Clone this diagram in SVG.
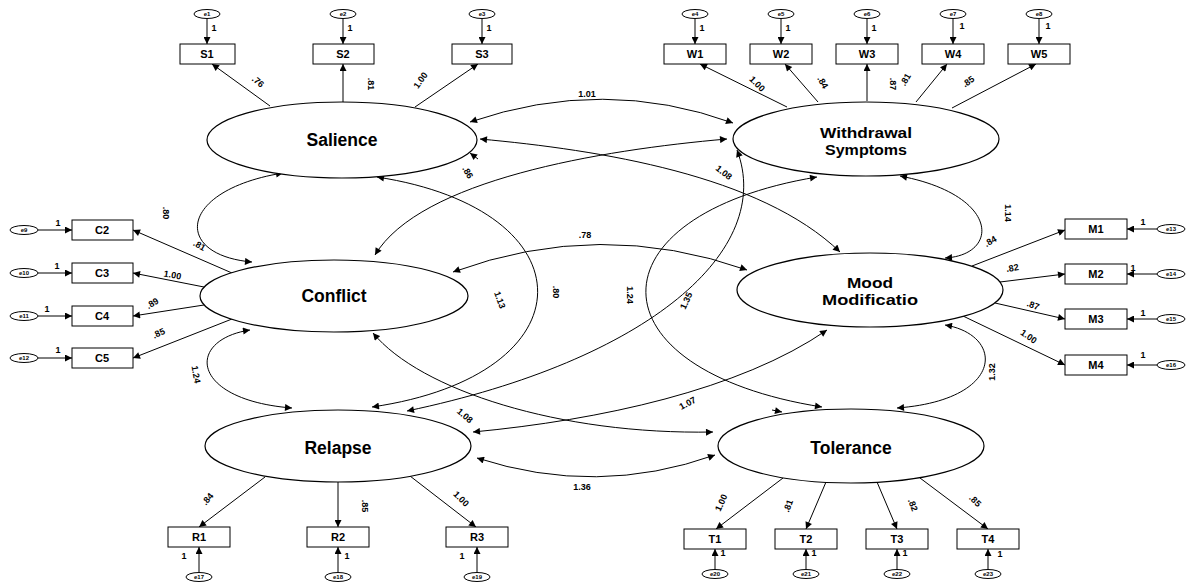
<svg xmlns="http://www.w3.org/2000/svg" width="1187" height="584" viewBox="0 0 1187 584">
<style>
.lat{fill:#fff;stroke:#000;stroke-width:1.2}
.box{fill:#fff;stroke:#000;stroke-width:1}
.err{fill:#fff;stroke:#000;stroke-width:1}
.ln{fill:none;stroke:#000;stroke-width:1;marker-end:url(#ah)}
.cv{fill:none;stroke:#000;stroke-width:1;marker-start:url(#ah);marker-end:url(#ah)}
text{font-family:"Liberation Sans",Arial,sans-serif;font-weight:bold;text-anchor:middle;fill:#000}
.lt{font-size:17.5px}
.l2{font-size:14px}
.bt{font-size:11px}
.pl{font-size:9px}
.et{font-size:6px}
</style>
<defs>
<marker id="ah" viewBox="0 0 10 10" refX="10" refY="5" markerWidth="9" markerHeight="7" markerUnits="userSpaceOnUse" orient="auto-start-reverse"><path d="M0,0 L10,5 L0,10 z" fill="#000"/></marker>
</defs>
<rect width="1187" height="584" fill="#fff"/>

<g id="connectors">
<!-- covariances -->
<path class="cv" d="M470,122 Q604,76 733,123"/>
<path class="cv" d="M283,173 C178,190 172,255 252,262"/>
<path class="cv" d="M250,330 C185,340 190,400 292,408"/>
<path class="cv" d="M900,176 C1000,195 1000,255 945,258"/>
<path class="cv" d="M945,325 C1005,335 1005,400 897,408"/>
<path class="cv" d="M477,458 Q597,497 715,455"/>
<path class="cv" d="M453,272 Q600,218 747,270"/>
<path class="cv" d="M480,139 C600,150 760,175 840,252"/>
<path class="cv" d="M727,139 C600,150 420,180 375,255"/>
<path class="cv" d="M377,177 C592,210 592,375 372,407"/>
<path class="cv" d="M817,177 C588,215 588,370 822,407"/>
<path class="cv" d="M737,150 C775,250 650,360 407,411"/>
<path class="cv" d="M373,333 C420,390 560,435 713,432"/>
<path class="cv" d="M473,432 C600,420 740,390 827,330"/>
<path class="ln" d="M478,159 L470,153"/>
<path class="ln" d="M772,410 L782,412"/>
<g class="pl">
<text x="587" y="97">1.01</text>
<text transform="translate(163,213) rotate(90)">.80</text>
<text transform="translate(193,375) rotate(80)">1.24</text>
<text transform="translate(1005,213) rotate(90)">1.14</text>
<text transform="translate(995,372) rotate(-90)">1.32</text>
<text x="582" y="490">1.36</text>
<text x="585" y="238">.78</text>
<text transform="translate(722,175) rotate(38)">1.08</text>
<text transform="translate(465,174) rotate(60)">.86</text>
<text transform="translate(497,301) rotate(70)">1.13</text>
<text transform="translate(553,292) rotate(90)">.80</text>
<text transform="translate(627,295) rotate(90)">1.24</text>
<text transform="translate(689,302) rotate(-65)">1.35</text>
<text transform="translate(463,418) rotate(40)">1.08</text>
<text transform="translate(689,406) rotate(-28)">1.07</text>
</g>
<!-- loadings -->
<path class="ln" d="M270,106 L212,64"/>
<path class="ln" d="M343,102 L343,64"/>
<path class="ln" d="M415,107 L478,64"/>
<path class="ln" d="M787,107 L700,64"/>
<path class="ln" d="M818,102 L785,64"/>
<path class="ln" d="M867,101 L867,64"/>
<path class="ln" d="M916,102 L947,64"/>
<path class="ln" d="M952,108 L1036,64"/>
<path class="ln" d="M232,273 L133,230"/>
<path class="ln" d="M204,287 L133,273"/>
<path class="ln" d="M204,305 L133,316"/>
<path class="ln" d="M232,319 L133,358"/>
<path class="ln" d="M972,266 L1065,230"/>
<path class="ln" d="M1000,282 L1065,274"/>
<path class="ln" d="M995,303 L1065,319"/>
<path class="ln" d="M963,316 L1065,365"/>
<path class="ln" d="M265,477 L199,527"/>
<path class="ln" d="M338,482 L338,527"/>
<path class="ln" d="M410,476 L476,527"/>
<path class="ln" d="M783,478 L716,529"/>
<path class="ln" d="M826,482 L806,529"/>
<path class="ln" d="M877,482 L897,529"/>
<path class="ln" d="M920,478 L988,529"/>
<g class="pl">
<text transform="translate(256,84) rotate(40)">.76</text>
<text transform="translate(368,84) rotate(90)">.81</text>
<text transform="translate(423,82) rotate(-55)">1.00</text>
<text transform="translate(755,86) rotate(45)">1.00</text>
<text transform="translate(820,84) rotate(60)">.84</text>
<text transform="translate(890,84) rotate(90)">.87</text>
<text transform="translate(908,81) rotate(-60)">.81</text>
<text transform="translate(970,84) rotate(-35)">.85</text>
<text transform="translate(198,248) rotate(30)">.81</text>
<text transform="translate(172,278) rotate(10)">1.00</text>
<text transform="translate(154,306) rotate(-30)">.89</text>
<text transform="translate(160,336) rotate(-25)">.85</text>
<text transform="translate(992,244) rotate(-30)">.84</text>
<text transform="translate(1013,271) rotate(-10)">.82</text>
<text transform="translate(1032,308) rotate(20)">.87</text>
<text transform="translate(1027,339) rotate(35)">1.00</text>
<text transform="translate(210,501) rotate(-50)">.84</text>
<text transform="translate(362,506) rotate(90)">.85</text>
<text transform="translate(459,501) rotate(45)">1.00</text>
<text transform="translate(724,504) rotate(-65)">1.00</text>
<text transform="translate(791,507) rotate(-70)">.81</text>
<text transform="translate(910,506) rotate(70)">.82</text>
<text transform="translate(973,503) rotate(45)">.85</text>
</g>
<!-- error paths -->
<path class="ln" d="M207,19 L207,44"/>
<path class="ln" d="M343,19 L343,44"/>
<path class="ln" d="M482,19 L482,44"/>
<path class="ln" d="M695,19 L695,44"/>
<path class="ln" d="M781,19 L781,44"/>
<path class="ln" d="M867,19 L867,44"/>
<path class="ln" d="M953,19 L953,44"/>
<path class="ln" d="M1039,19 L1039,44"/>
<path class="ln" d="M38,230 L72,230"/>
<path class="ln" d="M38,273 L72,273"/>
<path class="ln" d="M38,316 L72,316"/>
<path class="ln" d="M38,358 L72,358"/>
<path class="ln" d="M1157,229 L1127,229"/>
<path class="ln" d="M1157,274 L1127,274"/>
<path class="ln" d="M1157,319 L1127,319"/>
<path class="ln" d="M1157,365 L1127,365"/>
<path class="ln" d="M199,572 L199,547"/>
<path class="ln" d="M338,572 L338,547"/>
<path class="ln" d="M477,572 L477,547"/>
<path class="ln" d="M715,569 L715,549"/>
<path class="ln" d="M806,569 L806,549"/>
<path class="ln" d="M897,569 L897,549"/>
<path class="ln" d="M988,569 L988,549"/>
<g class="pl">
<text x="214" y="31">1</text>
<text x="350" y="31">1</text>
<text x="489" y="31">1</text>
<text x="702" y="31">1</text>
<text x="788" y="31">1</text>
<text x="874" y="31">1</text>
<text x="962" y="29">1</text>
<text x="1048" y="29">1</text>
<text x="58" y="226">1</text>
<text x="57" y="269">1</text>
<text x="47" y="312">1</text>
<text x="58" y="353">1</text>
<text x="1143" y="225">1</text>
<text x="1133" y="271">1</text>
<text x="1143" y="316">1</text>
<text x="1143" y="358">1</text>
<text x="184" y="559">1</text>
<text x="347" y="559">1</text>
<text x="462" y="559">1</text>
<text x="723" y="556">1</text>
<text x="814" y="556">1</text>
<text x="905" y="556">1</text>
<text x="1000" y="557">1</text>
</g>
</g>

<g id="salience"><ellipse class="lat" cx="342" cy="140" rx="135" ry="38"/><text class="lt" x="342" y="146">Salience</text></g>
<g id="withdrawal"><ellipse class="lat" cx="866" cy="139" rx="133" ry="37"/><text class="l2" x="866" y="138" textLength="92" lengthAdjust="spacingAndGlyphs">Withdrawal</text><text class="l2" x="866" y="155" textLength="82" lengthAdjust="spacingAndGlyphs">Symptoms</text></g>
<g id="conflict"><ellipse class="lat" cx="334" cy="296" rx="134" ry="36"/><text class="lt" x="334" y="302">Conflict</text></g>
<g id="mood"><ellipse class="lat" cx="870" cy="290" rx="133" ry="37"/><text class="l2" x="870" y="288" textLength="46" lengthAdjust="spacingAndGlyphs">Mood</text><text class="l2" x="870" y="305" textLength="96" lengthAdjust="spacingAndGlyphs">Modificatio</text></g>
<g id="relapse"><ellipse class="lat" cx="338" cy="446" rx="133" ry="36"/><text class="lt" x="338" y="454">Relapse</text></g>
<g id="tolerance"><ellipse class="lat" cx="851" cy="446" rx="133" ry="37"/><text class="lt" x="851" y="454">Tolerance</text></g>

<g id="S1"><rect class="box" x="180" y="44" width="55" height="20"/><text class="bt" x="207" y="58">S1</text></g>
<g id="S2"><rect class="box" x="313" y="44" width="61" height="20"/><text class="bt" x="343" y="58">S2</text></g>
<g id="S3"><rect class="box" x="452" y="44" width="60" height="20"/><text class="bt" x="482" y="58">S3</text></g>
<g id="W1"><rect class="box" x="664" y="44" width="62" height="20"/><text class="bt" x="695" y="58">W1</text></g>
<g id="W2"><rect class="box" x="750" y="44" width="62" height="20"/><text class="bt" x="781" y="58">W2</text></g>
<g id="W3"><rect class="box" x="836" y="44" width="62" height="20"/><text class="bt" x="867" y="58">W3</text></g>
<g id="W4"><rect class="box" x="922" y="44" width="62" height="20"/><text class="bt" x="953" y="58">W4</text></g>
<g id="W5"><rect class="box" x="1008" y="44" width="62" height="20"/><text class="bt" x="1039" y="58">W5</text></g>
<g id="C2"><rect class="box" x="72" y="220" width="61" height="20"/><text class="bt" x="102" y="234">C2</text></g>
<g id="C3"><rect class="box" x="72" y="263" width="61" height="20"/><text class="bt" x="102" y="277">C3</text></g>
<g id="C4"><rect class="box" x="72" y="306" width="61" height="20"/><text class="bt" x="102" y="320">C4</text></g>
<g id="C5"><rect class="box" x="72" y="348" width="61" height="20"/><text class="bt" x="102" y="362">C5</text></g>
<g id="M1"><rect class="box" x="1065" y="219" width="62" height="20"/><text class="bt" x="1096" y="233">M1</text></g>
<g id="M2"><rect class="box" x="1065" y="264" width="62" height="20"/><text class="bt" x="1096" y="278">M2</text></g>
<g id="M3"><rect class="box" x="1065" y="309" width="62" height="20"/><text class="bt" x="1096" y="323">M3</text></g>
<g id="M4"><rect class="box" x="1065" y="355" width="62" height="20"/><text class="bt" x="1096" y="369">M4</text></g>
<g id="R1"><rect class="box" x="168" y="527" width="62" height="20"/><text class="bt" x="199" y="541">R1</text></g>
<g id="R2"><rect class="box" x="307" y="527" width="62" height="20"/><text class="bt" x="338" y="541">R2</text></g>
<g id="R3"><rect class="box" x="446" y="527" width="62" height="20"/><text class="bt" x="477" y="541">R3</text></g>
<g id="T1"><rect class="box" x="684" y="529" width="62" height="20"/><text class="bt" x="715" y="543">T1</text></g>
<g id="T2"><rect class="box" x="775" y="529" width="62" height="20"/><text class="bt" x="806" y="543">T2</text></g>
<g id="T3"><rect class="box" x="866" y="529" width="62" height="20"/><text class="bt" x="897" y="543">T3</text></g>
<g id="T4"><rect class="box" x="957" y="529" width="62" height="20"/><text class="bt" x="988" y="543">T4</text></g>

<g id="errors">
<g id="e1"><ellipse class="err" cx="207" cy="14" rx="13" ry="4.5"/><text class="et" x="207" y="16">e1</text></g>
<g id="e2"><ellipse class="err" cx="343" cy="14" rx="13" ry="4.5"/><text class="et" x="343" y="16">e2</text></g>
<g id="e3"><ellipse class="err" cx="482" cy="14" rx="13" ry="4.5"/><text class="et" x="482" y="16">e3</text></g>
<g id="e4"><ellipse class="err" cx="695" cy="14" rx="13" ry="4.5"/><text class="et" x="695" y="16">e4</text></g>
<g id="e5"><ellipse class="err" cx="781" cy="14" rx="13" ry="4.5"/><text class="et" x="781" y="16">e5</text></g>
<g id="e6"><ellipse class="err" cx="867" cy="14" rx="13" ry="4.5"/><text class="et" x="867" y="16">e6</text></g>
<g id="e7"><ellipse class="err" cx="953" cy="14" rx="13" ry="4.5"/><text class="et" x="953" y="16">e7</text></g>
<g id="e8"><ellipse class="err" cx="1039" cy="14" rx="13" ry="4.5"/><text class="et" x="1039" y="16">e8</text></g>
<g id="e9"><ellipse class="err" cx="24" cy="230" rx="14" ry="4.5"/><text class="et" x="24" y="232">e9</text></g>
<g id="e10"><ellipse class="err" cx="24" cy="273" rx="14" ry="4.5"/><text class="et" x="24" y="275">e10</text></g>
<g id="e11"><ellipse class="err" cx="24" cy="316" rx="14" ry="4.5"/><text class="et" x="24" y="318">e11</text></g>
<g id="e12"><ellipse class="err" cx="24" cy="358" rx="14" ry="4.5"/><text class="et" x="24" y="360">e12</text></g>
<g id="e13"><ellipse class="err" cx="1171" cy="229" rx="14" ry="4.5"/><text class="et" x="1171" y="231">e13</text></g>
<g id="e14"><ellipse class="err" cx="1171" cy="274" rx="14" ry="4.5"/><text class="et" x="1171" y="276">e14</text></g>
<g id="e15"><ellipse class="err" cx="1171" cy="319" rx="14" ry="4.5"/><text class="et" x="1171" y="321">e15</text></g>
<g id="e16"><ellipse class="err" cx="1171" cy="365" rx="14" ry="4.5"/><text class="et" x="1171" y="367">e16</text></g>
<g id="e17"><ellipse class="err" cx="199" cy="577" rx="13" ry="4.5"/><text class="et" x="199" y="579">e17</text></g>
<g id="e18"><ellipse class="err" cx="338" cy="577" rx="13" ry="4.5"/><text class="et" x="338" y="579">e18</text></g>
<g id="e19"><ellipse class="err" cx="477" cy="577" rx="13" ry="4.5"/><text class="et" x="477" y="579">e19</text></g>
<g id="e20"><ellipse class="err" cx="715" cy="574" rx="13" ry="4.5"/><text class="et" x="715" y="576">e20</text></g>
<g id="e21"><ellipse class="err" cx="806" cy="574" rx="13" ry="4.5"/><text class="et" x="806" y="576">e21</text></g>
<g id="e22"><ellipse class="err" cx="897" cy="574" rx="13" ry="4.5"/><text class="et" x="897" y="576">e22</text></g>
<g id="e23"><ellipse class="err" cx="988" cy="574" rx="13" ry="4.5"/><text class="et" x="988" y="576">e23</text></g>
</g>
</svg>
